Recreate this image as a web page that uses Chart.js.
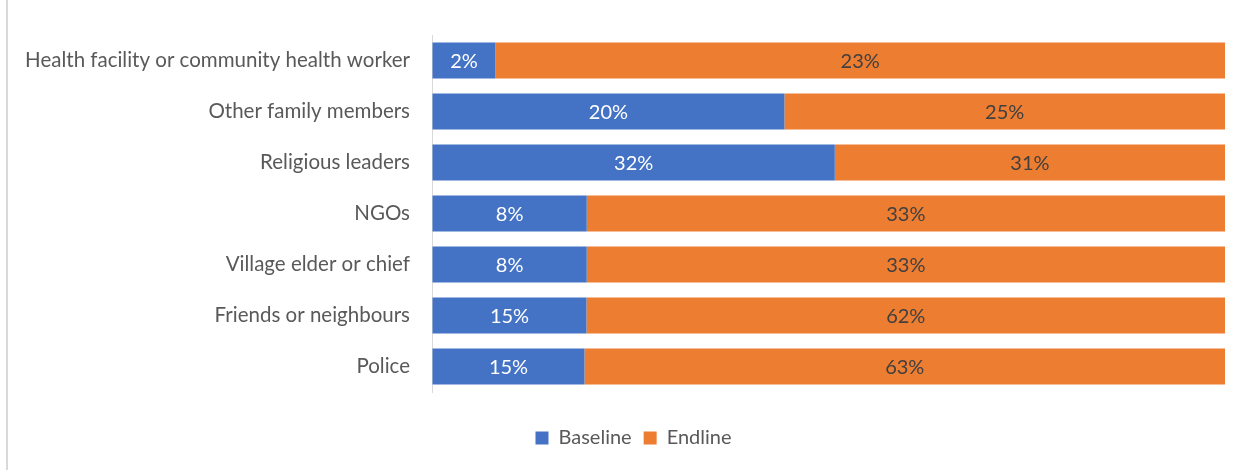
<!doctype html>
<html lang="en">
<head>
<meta charset="UTF-8">
<title>Baseline vs Endline</title>
<script src="https://cdn.jsdelivr.net/npm/chart.js@4/dist/chart.umd.min.js"></script>
<style>
    body { margin: 0; background: #fff; }
    #wrap { position: absolute; left: 0; top: 0; width: 1249px; height: 470px; }
    #edge { position: absolute; left: 6px; top: 0; width: 2px; height: 470px; background: #d9d9d9; }
</style>
</head>
<body>
<div id="wrap">
    <div id="edge"></div>
    <canvas id="myChart" width="1249" height="470"></canvas>
</div>
<script>
    var categories = [
        "Health facility or community health worker",
        "Other family members",
        "Religious leaders",
        "NGOs",
        "Village elder or chief",
        "Friends or neighbours",
        "Police"
    ];
    var baseline = [2, 20, 32, 8, 8, 15, 15];
    var endline = [23, 25, 31, 33, 33, 62, 63];

    // 100% stacked: each bar is the share of baseline + endline
    var share = function (arr, i) {
        return arr[i] / (baseline[i] + endline[i]) * 100;
    };
    var baseShare = baseline.map(function (v, i) { return share(baseline, i); });
    var endShare = endline.map(function (v, i) { return share(endline, i); });

    var FONT = "Lato, 'Open Sans', sans-serif";

    var barLabels = {
        id: "barLabels",
        afterDatasetsDraw: function (chart) {
            var ctx = chart.ctx;
            var raw = [baseline, endline];
            var colors = ["#ffffff", "#404040"];
            ctx.save();
            ctx.font = "20px " + FONT;
            ctx.textAlign = "center";
            ctx.textBaseline = "middle";
            chart.data.datasets.forEach(function (ds, di) {
                chart.getDatasetMeta(di).data.forEach(function (bar, i) {
                    var cx = (bar.x + bar.base) / 2;
                    ctx.fillStyle = colors[di];
                    ctx.fillText(raw[di][i] + "%", cx, bar.y + 1);
                });
            });
            ctx.restore();
        }
    };

    // legend sits a bit right of the canvas centre in the original
    var legendShift = {
        id: "legendShift",
        afterLayout: function (chart) {
            chart.legend.left += 32;
        }
    };

    var ctx = document.getElementById("myChart").getContext("2d");
    var myChart = new Chart(ctx, {
        type: "bar",
        data: {
            labels: categories,
            datasets: [
                {
                    label: "Baseline",
                    data: baseShare,
                    backgroundColor: "#4472C4",
                    categoryPercentage: 0.71,
                    barPercentage: 1.0
                },
                {
                    label: "Endline",
                    data: endShare,
                    backgroundColor: "#ED7D31",
                    categoryPercentage: 0.71,
                    barPercentage: 1.0
                }
            ]
        },
        options: {
            indexAxis: "y",
            responsive: false,
            animation: false,
            layout: { padding: { left: 10, right: 24, top: 35, bottom: 12 } },
            scales: {
                x: {
                    stacked: true,
                    min: 0,
                    max: 100,
                    // kept only as an empty spacer between bars and legend
                    grid: { display: true, drawOnChartArea: false, drawTicks: true, tickLength: 24, color: "rgba(0,0,0,0)" },
                    border: { display: false },
                    ticks: { display: false }
                },
                y: {
                    stacked: true,
                    afterFit: function (scale) { scale.width = 422; },
                    grid: { display: false, drawTicks: false },
                    border: { display: true, color: "#d9d9d9", width: 1 },
                    ticks: {
                        color: "#595959",
                        padding: 22,
                        font: { family: FONT, size: 20.5 }
                    }
                }
            },
            plugins: {
                legend: {
                    position: "bottom",
                    labels: {
                        color: "#595959",
                        boxWidth: 13,
                        boxHeight: 13,
                        padding: 12,
                        font: { family: FONT, size: 20 }
                    }
                },
                tooltip: { enabled: false }
            }
        },
        plugins: [barLabels, legendShift]
    });
</script>
</body>
</html>
